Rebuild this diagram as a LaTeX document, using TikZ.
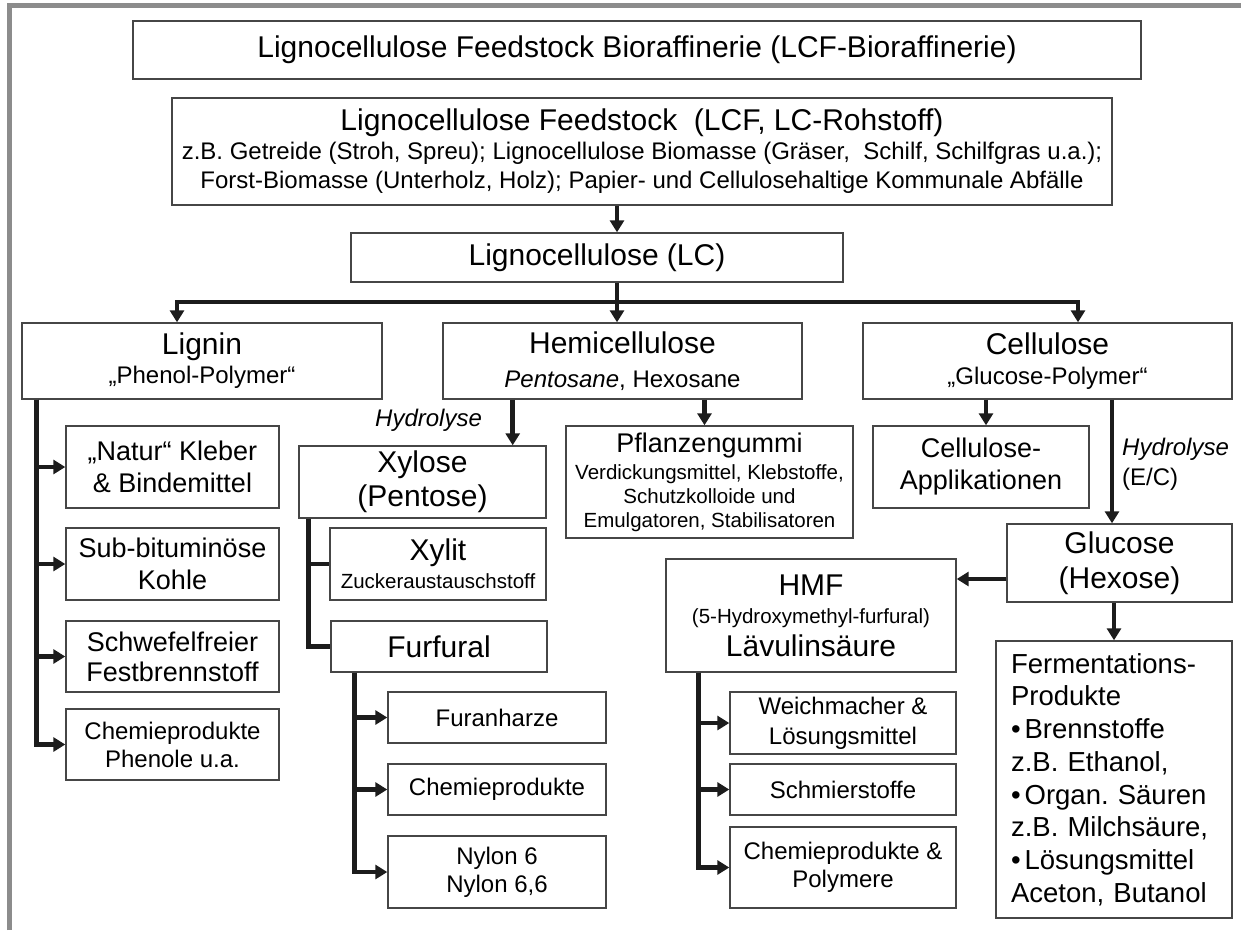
\documentclass[tikz,border=0pt]{standalone}
\usepackage{fontspec}
\setmainfont{Liberation Sans}
\usetikzlibrary{arrows.meta}
\frenchspacing
\definecolor{framegray}{RGB}{140,140,140}
\definecolor{boxgray}{RGB}{70,70,70}
\definecolor{linedark}{RGB}{28,28,28}
\newcommand{\lcfbig}{\fontsize{30}{34}\selectfont}
\newcommand{\lcfmid}{\fontsize{27}{31}\selectfont}
\newcommand{\lcfsmall}{\fontsize{24}{28}\selectfont}
\newcommand{\lcfsize}[2]{\fontsize{#1}{#2}\selectfont}

\begin{document}
\begin{tikzpicture}[x=1pt, y=-1pt, >={Triangle[length=12pt,width=14pt]},
  box/.style={draw=boxgray, line width=1.4, inner sep=0pt, align=center, font=\lcfsmall},
  flow/.style={draw=linedark, line width=4.5}]
\useasboundingbox (0,0) rectangle (1241,930);
\draw[framegray, line width=5] (9.5,930) |- (1241,5);

\node[box, minimum width=1008, minimum height=58] (title) at (637,50) {\lcfbig Lignocellulose Feedstock Bioraffinerie (LCF-Bioraffinerie)};
\node[box, minimum width=940, minimum height=107, font=\lcfsize{24}{29}] (feed) at (642,151.5) {{\lcfbig Lignocellulose Feedstock~ (LCF, LC-Rohstoff)}\\z.B. Getreide (Stroh, Spreu); Lignocellulose Biomasse (Gräser,~ Schilf, Schilfgras u.a.);\\Forst-Biomasse (Unterholz, Holz); Papier- und Cellulosehaltige Kommunale Abfälle};
\node[box, minimum width=492, minimum height=49] (lc) at (597,257.5) {\lcfbig Lignocellulose (LC)};

\node[box, minimum width=360, minimum height=76, font=\lcfsize{24}{29}] (lignin) at (202,361) {{\lcfbig Lignin}\\„Phenol-Polymer“};
\node[box, minimum width=359, minimum height=76, font=\lcfsize{24}{34}] (hemi) at (622.5,361) {{\lcfbig Hemicellulose}\\\textit{Pentosane}, Hexosane};
\node[box, minimum width=369, minimum height=76, font=\lcfsize{24}{30}] (cellu) at (1047.5,361) {{\lcfbig Cellulose}\\„Glucose-Polymer“};

\node[box, minimum width=213, minimum height=82, font=\lcfsize{27}{32}] (natur) at (172.5,467) {„Natur“ Kleber\\\& Bindemittel};
\node[box, minimum width=213, minimum height=72, font=\lcfsize{27}{32}] (kohle) at (172.5,564) {Sub-bituminöse\\Kohle};
\node[box, minimum width=213, minimum height=71, font=\lcfsize{27}{30}] (schwefel) at (172.5,656.5) {Schwefelfreier\\Festbrennstoff};
\node[box, minimum width=213, minimum height=71, font=\lcfsize{24}{28}] (chemL) at (172.5,744.5) {Chemieprodukte\\Phenole u.a.};

\node[box, minimum width=247, minimum height=72, font=\lcfsize{30}{34}] (xylose) at (422.5,482) {Xylose\\(Pentose)};
\node[box, minimum width=216, minimum height=72, font=\lcfsize{20.5}{28}] (xylit) at (438,564) {{\lcfbig Xylit}\\Zuckeraustauschstoff};
\node[box, minimum width=216, minimum height=51] (furfural) at (439,646.5) {\lcfbig Furfural};
\node[box, minimum width=218, minimum height=51] (furan) at (497,717.5) {Furanharze};
\node[box, minimum width=218, minimum height=51] (chemF) at (497,789.5) {Chemieprodukte};
\node[box, minimum width=218, minimum height=72, font=\lcfsize{24}{28}] (nylon) at (497,872) {Nylon 6\\Nylon 6,6};

\node[box, minimum width=287, minimum height=112, font=\lcfsize{20.5}{24}] (pflanz) at (709.5,482) {{\lcfmid Pflanzengummi}\\[3pt]Verdickungsmittel, Klebstoffe,\\Schutzkolloide und\\Emulgatoren, Stabilisatoren};
\node[box, minimum width=216, minimum height=82, font=\lcfsize{27}{32}] (app) at (981,467) {Cellulose-\\Applikationen};
\node[box, minimum width=225, minimum height=78, font=\lcfsize{30}{35}] (glucose) at (1119.5,563) {Glucose\\(Hexose)};

\node[box, minimum width=290, minimum height=113, font=\lcfsize{20.5}{28}] (hmf) at (811,615.5) {{\lcfbig HMF}\\(5-Hydroxymethyl-furfural)\\[5pt]{\lcfbig Lävulinsäure}};
\node[box, minimum width=226, minimum height=62, font=\lcfsize{24}{30}] (weich) at (843,723) {Weichmacher \&\\Lösungsmittel};
\node[box, minimum width=226, minimum height=51] (schmier) at (843,789.5) {Schmierstoffe};
\node[box, minimum width=226, minimum height=81, font=\lcfsize{24}{28}] (chemH) at (843,867.5) {Chemieprodukte \&\\Polymere};

\node[box, minimum width=236, minimum height=277, text width=206, inner xsep=15pt, align=left, font=\lcfsize{27.5}{32.7}] (ferm) at (1114,779.5) {Fermentations-\\Produkte\\\textbullet\hspace{4pt}Brennstoffe\\z.B. Ethanol,\\\textbullet\hspace{4pt}Organ. Säuren\\z.B. Milchsäure,\\\textbullet\hspace{4pt}Lösungsmittel\\Aceton, Butanol};

\node[font=\lcfsmall\itshape, anchor=base west, inner sep=0pt] (hydroX) at (375,426) {Hydrolyse};
\node[font=\lcfsize{24}{30}, align=left, anchor=north west, inner sep=0pt] (hydroG) at (1122,438) {\textit{Hydrolyse}\\(E/C)};

\coordinate (trunk) at (617,302);
\coordinate (barL) at (177,302);
\coordinate (barR) at (1078,302);
\draw[flow, ->] (feed.south -| trunk) -- (lc.north -| trunk);
\draw[flow, ->] (lc.south -| trunk) -- (hemi.north -| trunk);
\draw[flow, <->] (lignin.north -| barL) |- (barR) -- (cellu.north -| barR);

\coordinate (ligX) at ([xshift=15pt]lignin.south west);
\draw[flow, ->] (ligX) |- (natur.west);
\draw[flow, ->] (ligX) |- (kohle.west);
\draw[flow, ->] (ligX) |- (schwefel.west);
\draw[flow, ->] (ligX) |- (chemL.west);

\coordinate (xylIn) at ([xshift=-34pt]xylose.north east);
\draw[flow, ->] (hemi.south -| xylIn) -- (xylIn);
\draw[flow, ->] (hemi.south -| pflanz.north) ++(-5,0) -- ([xshift=-5pt]pflanz.north);
\coordinate (xylX) at ([xshift=10pt]xylose.south west);
\draw[flow] (xylX) |- (xylit.west);
\draw[flow] (xylX) |- (furfural.west);

\coordinate (furX) at ([xshift=24pt]furfural.south west);
\draw[flow, ->] (furX) |- (furan.west);
\draw[flow, ->] (furX) |- (chemF.west);
\draw[flow, ->] (furX) |- (nylon.west);

\draw[flow, ->] ([xshift=5pt]cellu.south -| app.north) -- ([xshift=5pt]app.north);
\coordinate (glcIn) at ([xshift=-7.5pt]glucose.north);
\draw[flow, ->] (cellu.south -| glcIn) -- (glcIn);
\draw[flow, ->] (glucose.south -| ferm.north) -- (ferm.north);
\coordinate (glcOut) at ([yshift=-16pt]glucose.west);
\draw[flow, ->] (glcOut) -- (glcOut -| hmf.east);

\coordinate (hmfX) at ([xshift=33pt]hmf.south west);
\draw[flow, ->] (hmfX) |- (weich.west);
\draw[flow, ->] (hmfX) |- (schmier.west);
\draw[flow, ->] (hmfX) |- (chemH.west);
\end{tikzpicture}
\end{document}
